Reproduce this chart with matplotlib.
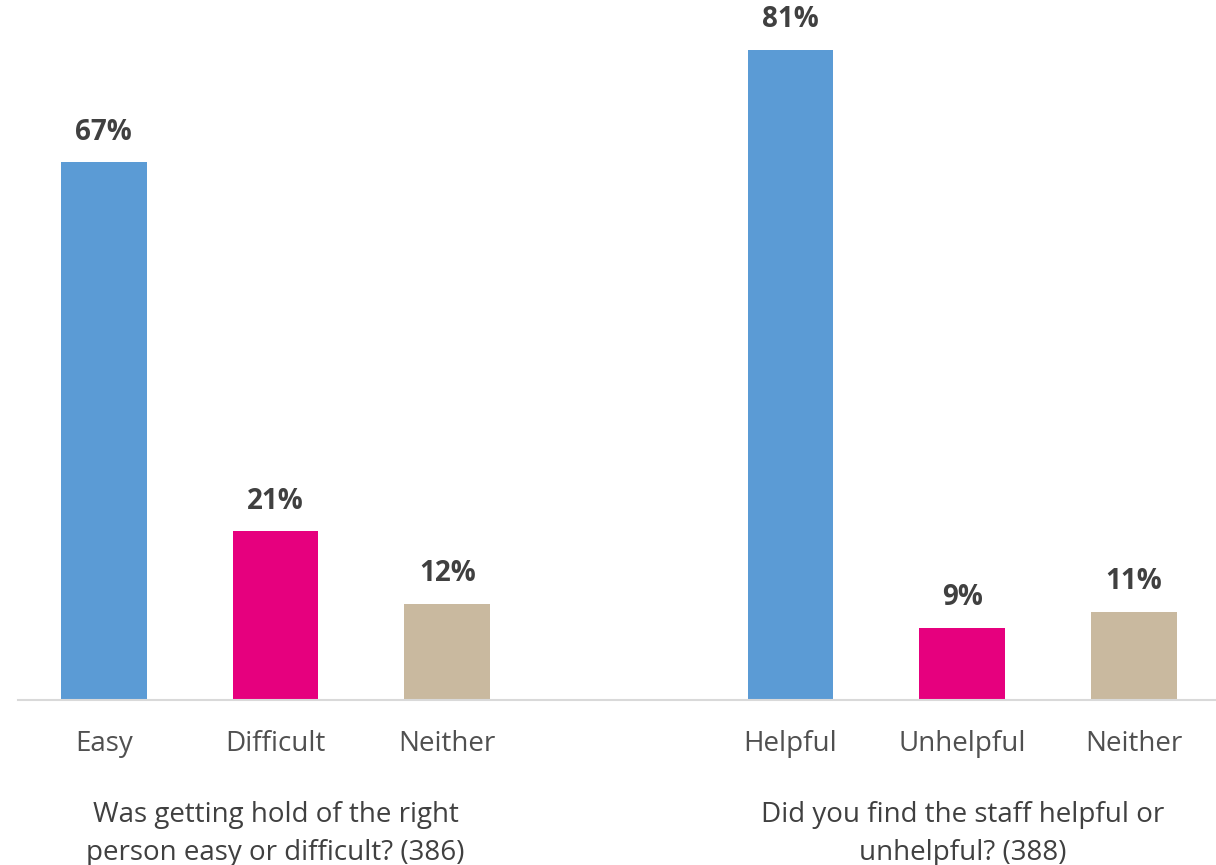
import matplotlib.pyplot as plt
import matplotlib.transforms as mtransforms

plt.rcParams['font.family'] = ['Open Sans', 'DejaVu Sans']

# survey results, percent of respondents
q1_labels = ["Easy", "Difficult", "Neither"]
q1_values = [67, 21, 12]
q2_labels = ["Helpful", "Unhelpful", "Neither"]
q2_values = [81, 9, 11]
group_titles = [
    "Was getting hold of the right\nperson easy or difficult? (386)",
    "Did you find the staff helpful or\nunhelpful? (388)",
]

colors = ["#5B9BD5", "#E6007E", "#C9B99F"]

fig = plt.figure(figsize=(12.16, 8.65), dpi=100)
ax = fig.add_axes([18 / 1216, 165 / 865, 1 - 18 / 1216, 700 / 865])

# one empty slot between the two questions
x1 = [0, 1, 2]
x2 = [4, 5, 6]

for xs, vals in [(x1, q1_values), (x2, q2_values)]:
    ax.bar(xs, vals, width=0.5, color=colors, zorder=2)
    for x, v in zip(xs, vals):
        ax.annotate(f"{v}%", (x, v), xytext=(0, 11), textcoords="offset points",
                    ha="center", va="bottom", fontsize=20, fontweight="bold",
                    color="#404040")

ax.set_xlim(-0.5, 6.478)
ax.set_ylim(0, 87.2)
ax.set_yticks([])
ax.set_xticks([])
for s in ["top", "right", "left"]:
    ax.spines[s].set_visible(False)
ax.spines["bottom"].set_color("#D9D9D9")
ax.spines["bottom"].set_linewidth(1.5)

trans = mtransforms.blended_transform_factory(ax.transData, fig.transFigure)
for xs, labels in [(x1, q1_labels), (x2, q2_labels)]:
    for x, lab in zip(xs, labels):
        ax.text(x, 1 - 744 / 865, lab, transform=trans, ha="center", va="center",
                fontsize=20, color="#505050")

for xc, title in zip([1, 5], group_titles):
    ax.text(xc, 1 - 834 / 865, title, transform=trans, ha="center", va="center",
            fontsize=20, color="#404040", linespacing=1.5)

fig.savefig("out.png", dpi=100)
